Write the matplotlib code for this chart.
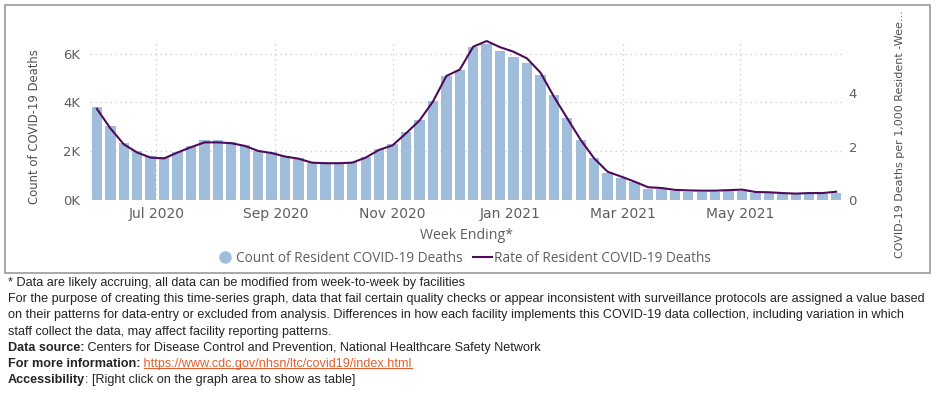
import numpy as np
import pandas as pd
import matplotlib
matplotlib.use("Agg")
import matplotlib.pyplot as plt
import matplotlib.dates as mdates
from matplotlib.lines import Line2D
from matplotlib.patches import Rectangle

# weekly data, week ending Sunday
weeks = pd.date_range("2020-05-31", periods=56, freq="7D")

counts = [3820, 3040, 2330, 2020, 1790, 1750, 1980, 2210, 2440, 2470,
          2390, 2250, 2020, 1960, 1790, 1710, 1510, 1510, 1510, 1540,
          1770, 2100, 2280, 2800, 3290, 4070, 5080, 5330, 6290, 6410,
          6110, 5880, 5630, 5140, 4300, 3370, 2470, 1720, 1120, 910,
          720, 470, 440, 360, 330, 330, 330, 350, 360, 280,
          270, 260, 250, 260, 260, 300]

rates = [3.42, 2.69, 2.09, 1.78, 1.59, 1.56, 1.78, 1.98, 2.16, 2.16,
         2.13, 2.03, 1.84, 1.76, 1.63, 1.55, 1.40, 1.38, 1.38, 1.40,
         1.59, 1.88, 2.05, 2.50, 2.98, 3.69, 4.65, 4.89, 5.75, 5.96,
         5.73, 5.56, 5.31, 4.78, 3.88, 3.06, 2.25, 1.56, 1.06, 0.88,
         0.69, 0.48, 0.45, 0.38, 0.36, 0.35, 0.35, 0.37, 0.39, 0.30,
         0.29, 0.26, 0.24, 0.26, 0.26, 0.31]

month_ticks = pd.to_datetime(["2020-07-01", "2020-09-01", "2020-11-01",
                              "2021-01-01", "2021-03-01", "2021-05-01"])
count_ticks = [0, 2000, 4000, 6000]
count_labels = ["0K", "2K", "4K", "6K"]
rate_ticks = [0, 2, 4]

footnotes = [
    ("", "* Data are likely accruing, all data can be modified from week-to-week by facilities"),
    ("", "For the purpose of creating this time-series graph, data that fail certain quality checks or appear inconsistent with surveillance protocols are assigned a value based"),
    ("", "on their patterns for data-entry or excluded from analysis. Differences in how each facility implements this COVID-19 data collection, including variation in which"),
    ("", "staff collect the data, may affect facility reporting patterns."),
    ("Data source:", " Centers for Disease Control and Prevention, National Healthcare Safety Network"),
    ("For more information:", " https://www.cdc.gov/nhsn/ltc/covid19/index.html"),
    ("Accessibility", ": [Right click on the graph area to show as table]"),
]

bar_col = "#A0BDDC"
line_col = "#4E0B5C"
grey = "#605E5C"
W, H = 936, 404

fig = plt.figure(figsize=(W / 100, H / 100), dpi=100)
ax = fig.add_axes([90 / W, 1 - 200 / H, 753 / W, 160 / H])
ax2 = ax.twinx()

ax.bar(weeks, counts, width=5.4, color=bar_col, zorder=2)
ax2.plot(weeks, rates, color=line_col, lw=1.5, zorder=3)

ax.set_xlim(pd.Timestamp("2020-05-27 10:00"), pd.Timestamp("2021-06-23 14:00"))
ax.set_ylim(0, 6560)
ax2.set_ylim(0, 6.0)

ax.set_xticks(month_ticks)
ax.xaxis.set_major_formatter(mdates.DateFormatter("%b %Y"))
ax.set_yticks(count_ticks)
ax.set_yticklabels(count_labels)
ax2.set_yticks(rate_ticks)

for a in (ax, ax2):
    for s in a.spines.values():
        s.set_visible(False)
    a.tick_params(length=0, colors=grey, labelsize=9.5)
ax.tick_params(axis="x", pad=5, labelsize=10)
ax.tick_params(axis="y", pad=7)
ax2.tick_params(axis="y", pad=4)

# dotted grid
for y in count_ticks[1:]:
    ax.axhline(y, color="#C8C8C8", lw=0.9, ls=(0, (1, 3)), zorder=1)
for d in month_ticks:
    ax.axvline(d, color="#C8C8C8", lw=0.9, ls=(0, (1, 3)), zorder=1)
ax.set_axisbelow(True)

fig.text(35 / W, 1 - 127 / H, "Count of COVID-19 Deaths", rotation=90,
         ha="center", va="center", color="#505050", fontsize=8.4)
fig.text(900 / W, 1 - 10 / H, "COVID-19 Deaths per 1,000 Resident -Wee...",
         rotation=90, ha="center", va="top", color="#505050", fontsize=8)
fig.text(466 / W, 1 - 236 / H, "Week Ending*", ha="center", va="center",
         color=grey, fontsize=10.2, family="Open Sans")

handles = [
    Line2D([], [], ls="none", marker="o", ms=8, color=bar_col),
    Line2D([], [], color=line_col, lw=1.5),
]
fig.legend(handles, ["Count of Resident COVID-19 Deaths", "Rate of Resident COVID-19 Deaths"],
           loc="center", bbox_to_anchor=(463 / W, 1 - 258 / H), ncol=2, frameon=False,
           handlelength=1.4, handletextpad=0.1, columnspacing=0.8,
           prop={"family": "Open Sans", "size": 9.8}, labelcolor=grey)

# frame around chart
fig.patches.append(Rectangle((5 / W, 1 - 273 / H), 925 / W, 268 / H,
                             transform=fig.transFigure, fill=False,
                             ec="#9A9A9A", lw=1.2))

# footnotes
fn_size = 9.1
fn_family = ["Liberation Sans Narrow", "Liberation Sans"]
renderer = fig.canvas.get_renderer()
y0 = 283
for i, (bold, rest) in enumerate(footnotes):
    y = 1 - (y0 + i * 16.2) / H
    x = 8 / W
    if bold:
        t = fig.text(x, y, bold, fontsize=fn_size, family=fn_family,
                     weight="bold", color="#252423", va="center")
        x = t.get_window_extent(renderer).x1 / W
    if "https" in rest:
        t2 = fig.text(x, y, rest, fontsize=fn_size, family=fn_family,
                      color="#E0612F", va="center")
        bb2 = t2.get_window_extent(renderer)
        sp = fig.text(0, 0, " ", fontsize=fn_size, family=fn_family)
        sw = sp.get_window_extent(renderer).width
        sp.remove()
        fig.add_artist(Line2D([(bb2.x0 + sw) / W, bb2.x1 / W],
                              [bb2.y0 / H + 0.005, bb2.y0 / H + 0.005],
                              transform=fig.transFigure, color="#E0612F", lw=0.8))
    else:
        fig.text(x, y, rest, fontsize=fn_size, family=fn_family,
                 color="#252423", va="center")

fig.savefig("out.png", dpi=100)
